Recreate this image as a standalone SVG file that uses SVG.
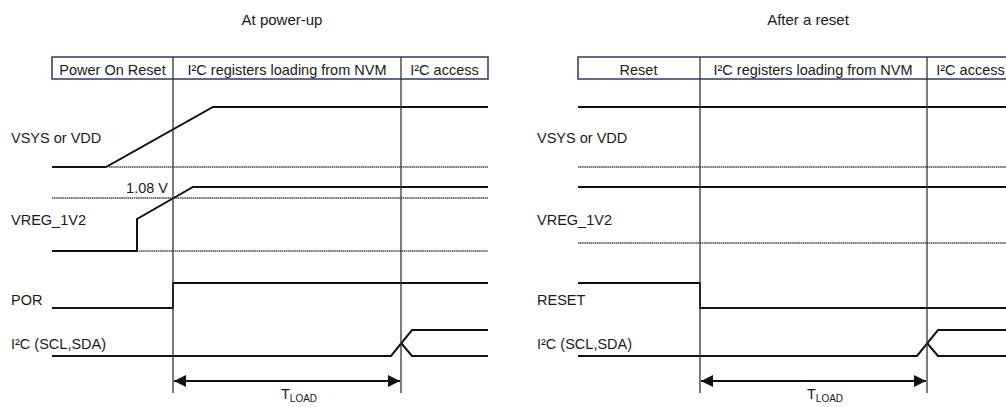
<svg xmlns="http://www.w3.org/2000/svg" width="1006" height="407" viewBox="0 0 1006 407">
<defs>
<style>
text{font-family:"Liberation Sans",Arial,sans-serif;fill:#1a1a1a;}
.t{font-size:14.5px;}
.title{font-size:15px;}
.hdr{fill:none;stroke:#2b3a67;stroke-width:1.5;}
.sig{fill:none;stroke:#111;stroke-width:2;}
.dot{fill:none;stroke:#444;stroke-width:1.6;stroke-dasharray:1.5 0.6;}
.mark{fill:none;stroke:#333;stroke-width:1.3;}
.dim{fill:none;stroke:#111;stroke-width:2;}
</style>
<marker id="ah" viewBox="0 0 12 12" refX="12" refY="6" markerWidth="12" markerHeight="12" markerUnits="userSpaceOnUse" orient="auto-start-reverse">
<path d="M0,0 L12,6 L0,12 Z" fill="#111"/>
</marker>
</defs>

<rect width="1006" height="407" fill="#fff"/>

<!-- Left diagram: At power-up -->
<g id="left">
<text class="title" x="282" y="25" text-anchor="middle">At power-up</text>
<g id="left-header">
<rect class="hdr" x="52" y="57" width="436" height="22"/>
<text class="t" x="112.5" y="75" text-anchor="middle">Power On Reset</text>
<text class="t" x="287" y="75" text-anchor="middle">I²C registers loading from NVM</text>
<text class="t" x="444.5" y="75" text-anchor="middle">I²C access</text>
</g>
<g id="left-labels">
<text class="t" x="11" y="143">VSYS or VDD</text>
<text class="t" x="168" y="193" text-anchor="end">1.08 V</text>
<text class="t" x="11" y="225">VREG_1V2</text>
<text class="t" x="11" y="305">POR</text>
<text class="t" x="11" y="349">I²C (SCL,SDA)</text>
</g>
<g id="left-signals">
<path class="sig" d="M52,167 H106 L213,107 H488"/>
<path class="dot" d="M109,167 H488"/>
<path class="dot" d="M52,198 H488"/>
<path class="sig" d="M52,251 H137 V219 L193,187 H488"/>
<path class="dot" d="M139,251 H488"/>
<path class="sig" d="M52,308 H173 V283 H488"/>
<path class="sig" d="M52,356 H391 L412,330 H488"/>
<path class="sig" d="M401,343 L412,356 H488"/>
</g>
</g>

<!-- Right diagram: After a reset -->
<g id="right">
<text class="title" x="808" y="25" text-anchor="middle">After a reset</text>
<g id="right-header">
<rect class="hdr" x="578" y="57" width="436" height="22"/>
<text class="t" x="638.5" y="75" text-anchor="middle">Reset</text>
<text class="t" x="813" y="75" text-anchor="middle">I²C registers loading from NVM</text>
<text class="t" x="970.5" y="75" text-anchor="middle">I²C access</text>
</g>
<g id="right-labels">
<text class="t" x="537" y="143">VSYS or VDD</text>
<text class="t" x="537" y="225">VREG_1V2</text>
<text class="t" x="537" y="305">RESET</text>
<text class="t" x="537" y="349">I²C (SCL,SDA)</text>
</g>
<g id="right-signals">
<path class="sig" d="M578,107 H1006"/>
<path class="dot" d="M578,167 H1006"/>
<path class="sig" d="M578,187 H1006"/>
<path class="dot" d="M578,243 H1006"/>
<path class="sig" d="M578,283 H700 V308 H1006"/>
<path class="sig" d="M578,356 H917 L938,330 H1006"/>
<path class="sig" d="M927,343 L938,356 H1006"/>
</g>
</g>

<!-- Connectors: timing markers and dimension arrows -->
<g id="connectors">
<path class="mark" d="M173,57 V393"/>
<path class="mark" d="M401,57 V393"/>
<path class="dim" d="M174,381 H400" marker-start="url(#ah)" marker-end="url(#ah)"/>
<path class="mark" d="M700,57 V393"/>
<path class="mark" d="M927,57 V393"/>
<path class="dim" d="M701,381 H926" marker-start="url(#ah)" marker-end="url(#ah)"/>
</g>

<g id="tload">
<text class="t" x="281" y="399">T<tspan font-size="10" dy="3">LOAD</tspan></text>
<text class="t" x="807" y="399">T<tspan font-size="10" dy="3">LOAD</tspan></text>
</g>
</svg>
